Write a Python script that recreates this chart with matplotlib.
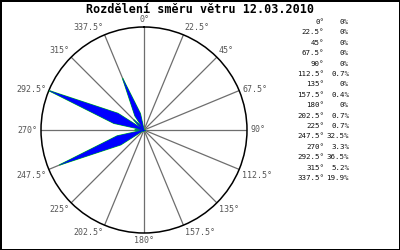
import numpy as np
import matplotlib
matplotlib.use("Agg")
import matplotlib.pyplot as plt

# wind direction distribution, 12.03.2010
directions = [0, 22.5, 45, 67.5, 90, 112.5, 135, 157.5, 180,
              202.5, 225, 247.5, 270, 292.5, 315, 337.5]
dir_labels = ["0°", "22.5°", "45°", "67.5°", "90°", "112.5°", "135°", "157.5°", "180°",
              "202.5°", "225°", "247.5°", "270°", "292.5°", "315°", "337.5°"]
percents = [0, 0, 0, 0, 0, 0.7, 0, 0.4, 0, 0.7, 0.7, 32.5, 3.3, 36.5, 5.2, 19.9]
pct_labels = ["0%", "0%", "0%", "0%", "0%", "0.7%", "0%", "0.4%", "0%",
              "0.7%", "0.7%", "32.5%", "3.3%", "36.5%", "5.2%", "19.9%"]

title = "Rozdělení směru větru 12.03.2010"

mono = "DejaVu Sans Mono"

fig = plt.figure(figsize=(4, 2.5), dpi=100)
fig.patch.set_facecolor("white")
fig.patch.set_edgecolor("black")
fig.patch.set_linewidth(2)

ax = fig.add_axes([0.1025, 0.068, 0.515, 0.824], projection="polar")
ax.set_theta_zero_location("N")
ax.set_theta_direction(-1)
rmax = max(percents)
ax.set_ylim(0, rmax)
ax.set_thetagrids(directions, labels=[""] * len(directions))
ax.set_rgrids([rmax / 2], labels=[""])
ax.yaxis.grid(False)
ax.xaxis.grid(True, color="#6e6e6e", linewidth=0.9)
ax.spines["polar"].set_color("black")
ax.spines["polar"].set_linewidth(1.1)
ax.tick_params(length=0)

# kite shaped petals
half = np.radians(10)
frac = 0.3
for d, p in zip(directions, percents):
    if p <= 0:
        continue
    t = np.radians(d)
    th = [t, t - half, t, t + half, t]
    rr = [0, p * frac, p, p * frac, 0]
    ax.fill(th, rr, facecolor="#00dd00", edgecolor="#00dd00", linewidth=0.9, zorder=3)
    ax.fill(th, rr, facecolor="#0000ff", edgecolor="#0000ff", linewidth=0.2, zorder=4)

# direction labels round the circle
for d, lab in zip(directions, dir_labels):
    t = np.radians(d)
    s, c = np.sin(t), np.cos(t)
    if abs(s) < 0.1:
        ha = "center"
    elif s > 0:
        ha = "left"
    else:
        ha = "right"
    if c > 0.5:
        va = "bottom"
    elif c < -0.3:
        va = "top"
    else:
        va = "center"
    ax.text(t, rmax * 1.03, lab, ha=ha, va=va, fontsize=6, family=mono,
            color="#555555", clip_on=False)

fig.text(0.5, 0.962, title, ha="center", va="center", fontsize=8.5,
         family=mono, fontweight="bold", color="black")

# legend table on the right
y0, dy = 0.912, 0.0416
for i, (dl, pl) in enumerate(zip(dir_labels, pct_labels)):
    y = y0 - i * dy
    fig.text(0.81, y, dl, ha="right", va="center", fontsize=5.4, family=mono, color="#111111")
    fig.text(0.8725, y, pl, ha="right", va="center", fontsize=5.4, family=mono, color="#111111")

fig.savefig("out.png", dpi=100, facecolor=fig.get_facecolor(), edgecolor=fig.get_edgecolor())
